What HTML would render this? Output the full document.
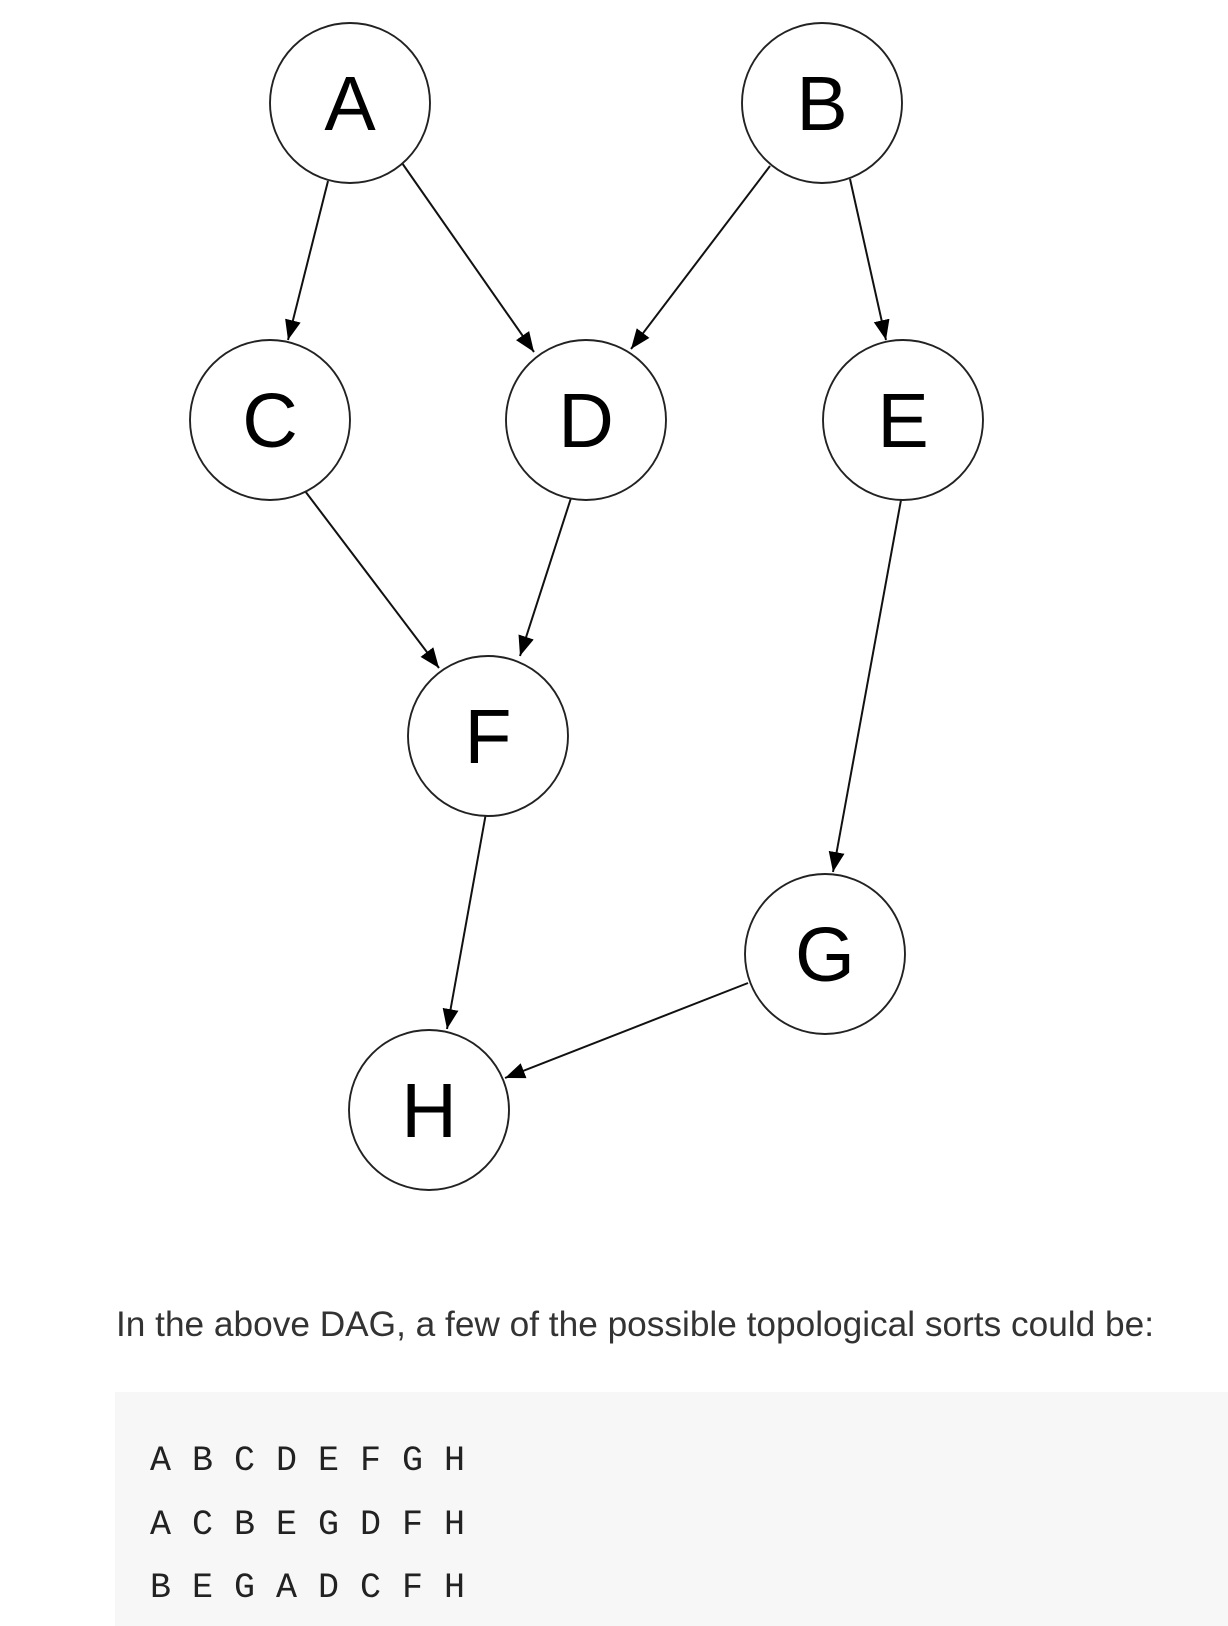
<!DOCTYPE html>
<html><head><meta charset="utf-8"><style>
html,body{margin:0;padding:0;background:#fff;}
body{width:1228px;height:1626px;overflow:hidden;position:relative;}
</style></head><body>
<svg width="1228" height="1626" viewBox="0 0 1228 1626" xmlns="http://www.w3.org/2000/svg" style="position:absolute;left:0;top:0">
<defs>
<marker id="ar" markerUnits="userSpaceOnUse" markerWidth="24" markerHeight="18" refX="20" refY="8" orient="auto">
<path d="M0,0 L20,8 L0,16 z" fill="#000"/>
</marker>
</defs>
<rect x="115" y="1392" width="1113" height="234" fill="#f7f7f7"/>
<g stroke="#111" stroke-width="2" fill="none" marker-end="url(#ar)">
<line x1="328" y1="181" x2="288" y2="340"/>
<line x1="402" y1="163" x2="534" y2="352"/>
<line x1="770" y1="166" x2="631" y2="349"/>
<line x1="850" y1="179" x2="886" y2="340"/>
<line x1="305" y1="491" x2="439" y2="668"/>
<line x1="571" y1="498" x2="520" y2="656"/>
<line x1="901" y1="500" x2="833" y2="872"/>
<line x1="486" y1="813" x2="447" y2="1029"/>
<line x1="748" y1="983" x2="505" y2="1078"/>
</g>
<g stroke="#222" stroke-width="1.9" fill="#fff">
<circle cx="350" cy="103" r="80"/>
<circle cx="822" cy="103" r="80"/>
<circle cx="270" cy="420" r="80"/>
<circle cx="586" cy="420" r="80"/>
<circle cx="903" cy="420" r="80"/>
<circle cx="488" cy="736" r="80"/>
<circle cx="825" cy="954" r="80"/>
<circle cx="429" cy="1110" r="80"/>
</g>
<g font-family="Liberation Sans, sans-serif" font-size="77" fill="#000" text-anchor="middle">
<text x="350" y="130">A</text>
<text x="822" y="130">B</text>
<text x="270" y="447">C</text>
<text x="586" y="447">D</text>
<text x="903" y="447">E</text>
<text x="488" y="763">F</text>
<text x="825" y="981">G</text>
<text x="429" y="1137">H</text>
</g>
<text x="116" y="1336" font-family="Liberation Sans, sans-serif" font-size="35" fill="#333" textLength="1038" lengthAdjust="spacingAndGlyphs">In the above DAG, a few of the possible topological sorts could be:</text>
<g font-family="Liberation Mono, monospace" font-size="35" fill="#222">
<text x="150" y="1470" xml:space="preserve">A B C D E F G H</text>
<text x="150" y="1534" xml:space="preserve">A C B E G D F H</text>
<text x="150" y="1597" xml:space="preserve">B E G A D C F H</text>
</g>
</svg>
</body></html>
